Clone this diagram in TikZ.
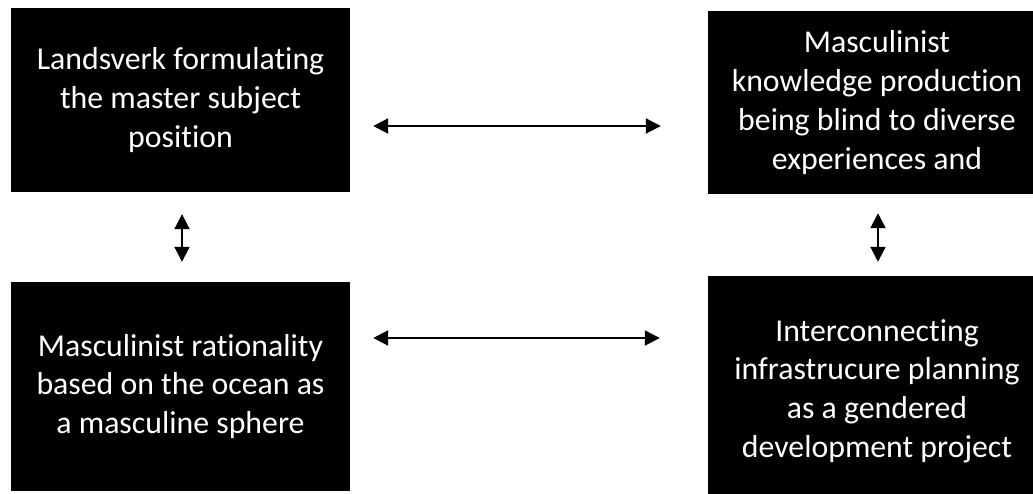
\documentclass[tikz,border=0pt]{standalone}
\usepackage{fontspec}
\setmainfont{Carlito}[Ligatures={NoCommon}]
\usetikzlibrary{arrows.meta}
\begin{document}
\begin{tikzpicture}[x=1pt,y=-1pt,
  blk/.style={fill=black,text=white,inner sep=0pt,align=center,
    font=\fontsize{31.8}{38.8}\selectfont},
  link/.style={line width=2pt,{Triangle[length=15pt,width=15pt]}-{Triangle[length=15pt,width=15pt]}}]
\useasboundingbox (0,0) rectangle (1033,494);
\clip (0,0) rectangle (1033,494);
\node[blk,minimum width=339pt,minimum height=184pt] (TL) at (180.5,100)
  {Landsverk formulating\\the master subject\\position};
\node[blk,minimum width=338pt,minimum height=183pt] (TR) at (877,102.5)
  {Masculinist\\knowledge production\\being blind to diverse\\experiences and};
\node[blk,minimum width=339pt,minimum height=209pt] (BL) at (180.5,386.5)
  {Masculinist rationality\\based on the ocean as\\a masculine sphere};
\node[blk,minimum width=338pt,minimum height=230pt] (BR) at (877,391)
  {Interconnecting\\infrastrucure planning\\as a gendered\\development project};
\draw[link,shorten <=23pt,shorten >=47pt] ([yshift=-26pt]TL.east) -- ([yshift=-23.5pt]TR.west);
\draw[link,shorten <=23pt,shorten >=48pt] ([yshift=48.5pt]BL.east) -- ([yshift=53pt]BR.west);
\draw[link,shorten <=22pt,shorten >=20pt] ([xshift=1.5pt]TL.south) -- ([xshift=1.5pt]BL.north);
\draw[link,shorten <=19pt,shorten >=14pt] ([xshift=1pt]TR.south) -- ([xshift=1pt]BR.north);
\end{tikzpicture}
\end{document}
